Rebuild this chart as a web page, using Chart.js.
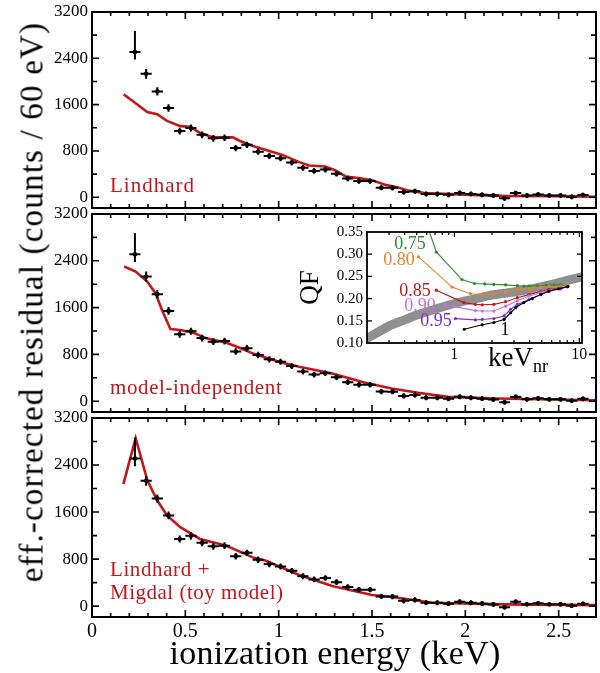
<!DOCTYPE html>
<html><head><meta charset="utf-8">
<script src="https://cdn.jsdelivr.net/npm/chart.js@4.4.1/dist/chart.umd.min.js"></script>
<style>
html,body{margin:0;padding:0;background:#fff;}
#wrap{position:relative;width:600px;height:673px;overflow:hidden;background:#fff;font-family:'Liberation Serif',serif;}
canvas{position:absolute;}
.lbl{position:absolute;white-space:nowrap;line-height:1;font-family:'Liberation Serif',serif;}
</style></head><body>
<div id="wrap">
<canvas id="p1" width="600" height="212" style="left:0;top:0px"></canvas>
<canvas id="p2" width="600" height="216" style="left:0;top:200px"></canvas>
<canvas id="p3" width="600" height="269" style="left:0;top:404px"></canvas>
<canvas id="inset" width="300" height="140" style="left:290px;top:222px"></canvas>
<div class="lbl" style="left:32px;top:302px;transform:translate(-50%,-50%) rotate(-90deg);font-size:33px;letter-spacing:1.2px;">eff.-corrected residual (counts / 60 eV)</div>
<div class="lbl" style="left:335px;top:636px;transform:translateX(-50%);font-size:34px;letter-spacing:0.3px;">ionization energy (keV)</div>
<div class="lbl" style="left:110px;top:175px;font-size:21px;letter-spacing:1px;color:#c4161c;">Lindhard</div>
<div class="lbl" style="left:110px;top:377px;font-size:21px;letter-spacing:0.6px;color:#c4161c;">model-independent</div>
<div class="lbl" style="left:110px;top:559px;font-size:21px;letter-spacing:0.6px;color:#c4161c;">Lindhard +</div>
<div class="lbl" style="left:110px;top:582px;font-size:21px;letter-spacing:0.5px;color:#c4161c;">Migdal (toy model)</div>
<div class="lbl" style="left:410px;top:243px;transform:translate(-50%,-50%);font-size:18px;color:#2b8c2b;">0.75</div>
<div class="lbl" style="left:399px;top:259px;transform:translate(-50%,-50%);font-size:18px;color:#e8832a;">0.80</div>
<div class="lbl" style="left:415px;top:290px;transform:translate(-50%,-50%);font-size:18px;color:#c0181c;">0.85</div>
<div class="lbl" style="left:420px;top:305px;transform:translate(-50%,-50%);font-size:18px;color:#c76fe3;">0.90</div>
<div class="lbl" style="left:436px;top:320px;transform:translate(-50%,-50%);font-size:18px;color:#7b2fd6;">0.95</div>
<div class="lbl" style="left:505px;top:329px;transform:translate(-50%,-50%);font-size:18px;color:#000;">1</div>
<div class="lbl" style="left:488px;top:344px;font-size:27px;">keV<sub style="font-size:18px;">nr</sub></div>
</div>
<script>
// ---- main data (60 eV bins) ----
const energy = [0.23,0.29,0.35,0.41,0.47,0.53,0.59,0.65,0.71,0.77,0.83,0.89,0.95,1.01,1.07,1.13,1.19,1.25,1.31,1.37,1.43,1.49,1.55,1.61,1.67,1.73,1.79,1.85,1.91,1.97,2.03,2.09,2.15,2.21,2.27,2.33,2.39,2.45,2.51,2.57,2.63];
const counts = [2510,2132,1829,1543,1143,1195,1078,1018,1028,850,906,788,715,675,600,508,455,478,408,325,280,280,165,163,90,105,58,58,42,75,58,42,29,-18,73,32,48,32,32,7,40];
const errUp   = [360,85,70,65,60,60,58,58,58,55,55,55,52,52,50,50,50,48,48,48,46,46,45,45,44,44,43,43,42,42,42,41,41,40,40,40,40,40,40,40,40];
const errDown = [130,85,70,65,60,60,58,58,58,55,55,55,52,52,50,50,50,48,48,48,46,46,45,45,44,44,43,43,42,42,42,41,41,40,40,40,40,40,40,40,40];

const lindhardE = [0.17,0.225,0.296,0.349,0.402,0.473,0.525,0.578,0.649,0.755,0.79,0.861,0.932,1.02,1.11,1.163,1.25,1.305,1.358,1.428,1.5,1.57,1.64,1.694,1.782,1.995,2.2,2.5,2.7];
const lindhardCounts = [1777,1646,1474,1435,1320,1229,1217,1114,1035,1035,977,886,818,732,607,548,531,463,360,333,292,218,171,115,75,46,25,20,8];

const modelIndepE = [0.172,0.234,0.296,0.34,0.375,0.42,0.473,0.543,0.614,0.72,0.79,0.861,0.932,1.02,1.11,1.287,1.464,1.605,1.747,1.906,2.17,2.7];
const modelIndepCounts = [2302,2216,2045,1846,1560,1234,1217,1171,1074,1000,914,817,743,657,588,475,314,217,143,74,46,17];

const migdalE = [0.168,0.234,0.296,0.349,0.402,0.473,0.578,0.72,0.861,0.932,1.11,1.287,1.5,1.64,1.82,2.207,2.7];
const migdalCounts = [2074,2857,2143,1800,1543,1343,1143,1028,829,771,529,343,189,143,57,29,17];

const xTickValues = [0,0.5,1,1.5,2,2.5];
const xTickLabels = ['0','0.5','1','1.5','2','2.5'];
const yTickValues = [0,800,1600,2400,3200];
const yTickLabels = ['0','800','1600','2400','3200'];

// ---- inset data (QF vs keVnr) ----
const qfLindE = [0.17,0.2,0.3,0.4,0.5,0.7,1,1.5,2,3,4,6,8,10.5];
const qfLind  = [0.098,0.110,0.138,0.152,0.163,0.176,0.189,0.200,0.208,0.215,0.221,0.232,0.241,0.249];
const qf075E = [0.55,0.717,1.15,1.45,1.75,2.07,2.57,3.19,3.6,3.96,4.62,5.39,6.3,7.1,8.07];
const qf075  = [0.40,0.305,0.243,0.234,0.233,0.232,0.231,0.229,0.228,0.228,0.229,0.230,0.231,0.231,0.229];
const qf080E = [0.516,0.958,1.345,1.67,2.07,2.57,3.19,3.96,4.9,5.7,7.1,8.07];
const qf080  = [0.294,0.226,0.211,0.209,0.211,0.215,0.220,0.223,0.226,0.227,0.228,0.229];
const qf085E = [0.717,1.19,1.475,1.67,2.07,2.57,3.19,3.96,4.9,5.7,7.1,8.07];
const qf085  = [0.219,0.191,0.187,0.186,0.187,0.193,0.202,0.209,0.216,0.221,0.224,0.227];
const qf090E = [0.84,1.475,1.67,2.07,2.57,3.19,3.96,4.9,5.7,7.1,8.07];
const qf090  = [0.186,0.173,0.172,0.172,0.183,0.195,0.206,0.213,0.218,0.224,0.227];
const qf095E = [1.02,1.475,1.67,2.07,2.5,2.82,3.19,3.96,4.9,5.7,7.1,8.07];
const qf095  = [0.155,0.152,0.153,0.155,0.161,0.176,0.187,0.198,0.209,0.216,0.222,0.227];
const qf100E = [1.20,1.67,2.07,2.5,2.82,3.1,3.6,4.2,4.9,5.7,6.8,8.07];
const qf100  = [0.131,0.141,0.146,0.153,0.168,0.180,0.191,0.200,0.209,0.217,0.222,0.227];
const qfTickValues = [0.10,0.15,0.20,0.25,0.30,0.35];
const qfTickLabels = ['0.10','0.15','0.20','0.25','0.30','0.35'];
const enrTickValues = [1,10];
const enrTickLabels = ['1','10'];

const RED = '#c4161c';
Chart.defaults.font.family = "'Liberation Serif', serif";
Chart.defaults.color = '#000';

const pts = (xs, ys) => xs.map((v,i)=>({x:v, y:ys[i]}));

// tick specs for frames (value, length)
function linTicks(min, max, minor, major, lmin, lmaj){
  const out=[];
  const start=Math.ceil(min/minor-1e-9);
  for(let k=start;k*minor<=max+1e-9;k++){const v=+(k*minor).toFixed(6); const isMaj=Math.abs(v/major-Math.round(v/major))<1e-6; out.push([v,isMaj?lmaj:lmin]);}
  return out;
}
function logTicks(min,max,lmin,lmaj){
  const out=[];
  for(let e=-1;e<=1;e++){for(let m=1;m<10;m++){const v=m*Math.pow(10,e); if(v>=min-1e-9&&v<=max+1e-9) out.push([v,m===1?lmaj:lmin]);}}
  return out;
}
const panelFrame = {x: linTicks(0,2.7,0.1,0.5,4,7), y: linTicks(-185,3200,400,800,5,7), w:2, tw:1.6};
const frameSpec = {
  p1: panelFrame, p2: panelFrame, p3: panelFrame,
  inset: {x: logTicks(0.2,10.5,3,5), y: linTicks(0.1,0.35,0.05,0.05,5,5), w:1.8, tw:1.2}
};

const framePlugin = {
  id:'frame',
  beforeDraw(chart){
    if(chart.canvas.id!=='inset') return;
    const {ctx, chartArea:a} = chart;
    ctx.save(); ctx.fillStyle='#fff'; ctx.fillRect(a.left,a.top,a.right-a.left,a.bottom-a.top); ctx.restore();
  },
  afterDraw(chart){
    const spec = frameSpec[chart.canvas.id]; if(!spec) return;
    const {ctx, chartArea:a, scales:{x,y}} = chart;
    ctx.save(); ctx.strokeStyle='#000'; ctx.lineWidth=spec.tw; ctx.beginPath();
    spec.x.forEach(([v,len])=>{const p=x.getPixelForValue(v); if(p<a.left+1||p>a.right-1) return;
      ctx.moveTo(p,a.bottom); ctx.lineTo(p,a.bottom-len); ctx.moveTo(p,a.top); ctx.lineTo(p,a.top+len);});
    spec.y.forEach(([v,len])=>{const p=y.getPixelForValue(v); if(p<a.top+1||p>a.bottom-1) return;
      ctx.moveTo(a.left,p); ctx.lineTo(a.left+len,p); ctx.moveTo(a.right,p); ctx.lineTo(a.right-len,p);});
    ctx.stroke();
    ctx.lineWidth=spec.w; ctx.strokeRect(a.left,a.top,a.right-a.left,a.bottom-a.top);
    ctx.restore();
  }
};
const errorBarPlugin = {
  id:'errorBars',
  afterDatasetsDraw(chart){
    const {ctx, scales:{x,y}} = chart;
    chart.data.datasets.forEach(ds=>{
      if(!ds.errUp) return;
      ctx.save(); ctx.strokeStyle='#000'; ctx.lineWidth=2; ctx.beginPath();
      ds.data.forEach((p,i)=>{
        const px=x.getPixelForValue(p.x), py=y.getPixelForValue(p.y);
        ctx.moveTo(x.getPixelForValue(p.x-ds.xHalf),py); ctx.lineTo(x.getPixelForValue(p.x+ds.xHalf),py);
        ctx.moveTo(px,y.getPixelForValue(p.y+ds.errUp[i])); ctx.lineTo(px,y.getPixelForValue(p.y-ds.errDown[i]));
      });
      ctx.stroke(); ctx.restore();
    });
  }
};

function panel(id, lineE, lineC, showX, padTop, padBottom){
  return new Chart(document.getElementById(id), {
    type:'scatter',
    data:{datasets:[
      {label:'data', data:pts(energy,counts), showLine:false, pointRadius:2.3, pointBackgroundColor:'#000', pointBorderWidth:0, borderColor:'#000', errUp:errUp, errDown:errDown, xHalf:0.03},
      {label:'model', data:pts(lineE,lineC), showLine:true, borderColor:RED, borderWidth:2.6, pointRadius:0, tension:0, clip:0}
    ]},
    options:{
      responsive:false, animation:false, devicePixelRatio:1, events:[],
      layout:{padding:{top:padTop, bottom:padBottom, left:0, right:2}},
      plugins:{legend:{display:false}, tooltip:{enabled:false}},
      scales:{
        x:{type:'linear', min:0, max:2.7, bounds:'data', display:showX,
           grid:{display:false, drawTicks:false}, border:{display:false},
           afterBuildTicks:s=>{s.ticks=xTickValues.map(v=>({value:v}));},
           ticks:{callback:(v,i)=>xTickLabels[i], font:{size:20}, padding:3, maxRotation:0, autoSkip:false},
           afterFit:s=>{ if(showX) s.height=56; s.paddingLeft=0; s.paddingRight=0; }},
        y:{type:'linear', min:-185, max:3200, bounds:'data',
           grid:{display:false, drawTicks:false}, border:{display:false},
           afterBuildTicks:s=>{s.ticks=yTickValues.map(v=>({value:v}));},
           ticks:{callback:(v,i)=>yTickLabels[i], font:{size:17}, padding:4, autoSkip:false},
           afterFit:s=>{ s.width=92; s.paddingTop=0; s.paddingBottom=0; }}
      }
    },
    plugins:[framePlugin, errorBarPlugin]
  });
}
panel('p1', lindhardE, lindhardCounts, false, 12, 4);
panel('p2', modelIndepE, modelIndepCounts, false, 14, 4);
panel('p3', migdalE, migdalCounts, true, 14, 0);

const curve = (xs, ys, col) => ({data:pts(xs,ys), showLine:true, borderColor:col, backgroundColor:col, borderWidth:1.1, pointRadius:1.6, pointBorderWidth:0, pointBackgroundColor:col, tension:0, clip:0});
new Chart(document.getElementById('inset'), {
  type:'scatter',
  data:{datasets:[
    curve(qf100E, qf100, '#000000'),
    curve(qf095E, qf095, '#7b2fd6'),
    curve(qf090E, qf090, '#c76fe3'),
    curve(qf085E, qf085, '#c0181c'),
    curve(qf080E, qf080, '#e8832a'),
    curve(qf075E, qf075, '#2b8c2b'),
    {data:pts(qfLindE,qfLind), showLine:true, borderColor:'#8f8f8f', borderWidth:9, pointRadius:0, tension:0.3, clip:0}
  ]},
  options:{
    responsive:false, animation:false, devicePixelRatio:1, events:[],
    layout:{padding:{top:10, bottom:0, left:0, right:8}},
    plugins:{legend:{display:false}, tooltip:{enabled:false}},
    scales:{
      x:{type:'logarithmic', min:0.2, max:10.5, bounds:'data',
         grid:{display:false, drawTicks:false}, border:{display:false},
         afterBuildTicks:s=>{s.ticks=enrTickValues.map(v=>({value:v}));},
         ticks:{callback:(v,i)=>enrTickLabels[i], font:{size:16}, padding:2, maxRotation:0, autoSkip:false},
         afterFit:s=>{ s.height=19; s.paddingLeft=0; s.paddingRight=0; }},
      y:{type:'linear', min:0.1, max:0.35, bounds:'data',
         grid:{display:false, drawTicks:false}, border:{display:false},
         afterBuildTicks:s=>{s.ticks=qfTickValues.map(v=>({value:v}));},
         ticks:{callback:(v,i)=>qfTickLabels[i], font:{size:15}, padding:4, autoSkip:false},
         title:{display:true, text:'QF', font:{size:27}, padding:{top:5,bottom:0}},
         afterFit:s=>{ s.width=77; s.paddingTop=0; s.paddingBottom=0; }}
    }
  },
  plugins:[framePlugin]
});
</script>
</body></html>
